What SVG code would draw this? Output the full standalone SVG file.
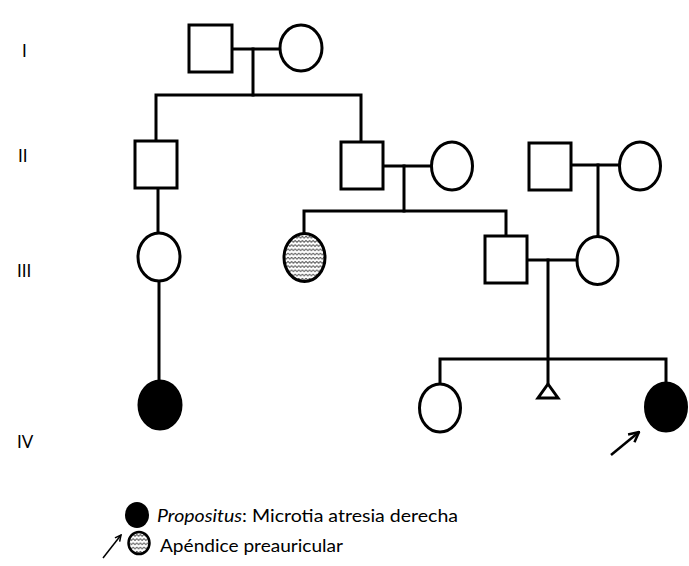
<svg xmlns="http://www.w3.org/2000/svg" width="689" height="566" viewBox="0 0 689 566">
  <defs>
    <style>
      .sym { fill: #fff; stroke: #000; stroke-width: 3; }
      .aff { fill: #000; stroke: #000; stroke-width: 3; }
      .pat { fill: url(#zigzag); stroke: #000; stroke-width: 3; }
      .ln { fill: none; stroke: #000; stroke-width: 3; stroke-linecap: square; }
      .arr { fill: none; stroke: #000; stroke-width: 2.5; }
      .gen { font-family: Lato, "Liberation Sans", sans-serif; font-size: 17px; fill: #000; }
      .leg { font-family: Lato, "Open Sans", "Liberation Sans", sans-serif; font-size: 17.5px; fill: #000; }
    </style>
    <pattern id="zigzag" width="3.6" height="4.2" patternUnits="userSpaceOnUse">
      <rect width="3.6" height="4.2" fill="#fff"/>
      <path d="M0 1 L1.8 3 L3.6 1" fill="none" stroke="#444" stroke-width="0.9"/>
    </pattern>
    <marker id="head" viewBox="0 0 10 10" refX="9" refY="5" markerWidth="5" markerHeight="5" orient="auto">
      <path d="M1 1 L9 5 L1 9" fill="none" stroke="#000" stroke-width="2"/>
    </marker>
  </defs>
  <rect width="689" height="566" fill="#fff"/>

  <!-- generation labels -->
  <g id="generations">
    <text class="gen" x="22" y="57">I</text>
    <text class="gen" x="18" y="162">II</text>
    <text class="gen" x="17" y="277">III</text>
    <text class="gen" x="17" y="448">IV</text>
  </g>

  <!-- connecting lines -->
  <g id="connectors">
    <path class="ln" d="M232 49 H280"/>
    <path class="ln" d="M253 49 V95"/>
    <path class="ln" d="M156 141 V95 H361 V142"/>
    <path class="ln" d="M158 188 V233"/>
    <path class="ln" d="M159 281 V380"/>
    <path class="ln" d="M383 166 H432"/>
    <path class="ln" d="M404 166 V211"/>
    <path class="ln" d="M304 233 V211 H506 V236"/>
    <path class="ln" d="M571 165 H620"/>
    <path class="ln" d="M598 165 V236"/>
    <path class="ln" d="M527 260 H577"/>
    <path class="ln" d="M548 260 V383"/>
    <path class="ln" d="M440 383 V359 H666 V381"/>
  </g>

  <!-- generation I -->
  <g id="I-1"><rect class="sym" x="189" y="25" width="43" height="47"/></g>
  <g id="I-2"><ellipse class="sym" cx="301" cy="48" rx="21" ry="23"/></g>

  <!-- generation II -->
  <g id="II-1"><rect class="sym" x="135" y="141" width="42" height="47"/></g>
  <g id="II-2"><rect class="sym" x="341" y="142" width="42" height="47"/></g>
  <g id="II-3"><ellipse class="sym" cx="452" cy="166" rx="20.5" ry="24"/></g>
  <g id="II-4"><rect class="sym" x="529" y="143" width="42" height="47"/></g>
  <g id="II-5"><ellipse class="sym" cx="640" cy="166" rx="20.5" ry="24"/></g>

  <!-- generation III -->
  <g id="III-1"><ellipse class="sym" cx="159" cy="257" rx="21" ry="24"/></g>
  <g id="III-2"><ellipse class="pat" cx="304.5" cy="257.5" rx="20.5" ry="24"/></g>
  <g id="III-3"><rect class="sym" x="485" y="236" width="42" height="47"/></g>
  <g id="III-4"><ellipse class="sym" cx="597.5" cy="260.5" rx="20.5" ry="24"/></g>

  <!-- generation IV -->
  <g id="IV-1"><ellipse class="aff" cx="160" cy="405" rx="21" ry="24"/></g>
  <g id="IV-2"><ellipse class="sym" cx="440" cy="408" rx="20.5" ry="24"/></g>
  <g id="IV-3"><path class="sym" d="M548 384 L558 398 H538 Z"/></g>
  <g id="IV-4"><ellipse class="aff" cx="666" cy="407" rx="20.5" ry="24"/></g>

  <!-- proband arrow -->
  <g id="proband-arrow">
    <path class="arr" d="M611 455 L639 432" marker-end="url(#head)"/>
  </g>

  <!-- legend -->
  <g id="legend">
    <ellipse cx="137" cy="515" rx="12" ry="13" fill="#000"/>
    <text class="leg" x="157" y="522" textLength="301" lengthAdjust="spacingAndGlyphs"><tspan font-style="italic">Propositus</tspan>: Microtia atresia derecha</text>
    <path d="M103 558 L121 535" fill="none" stroke="#000" stroke-width="1.5" marker-end="url(#head)"/>
    <ellipse cx="139" cy="543" rx="10.5" ry="11" fill="url(#zigzag)" stroke="#000" stroke-width="2.5"/>
    <text class="leg" x="160" y="552" textLength="183" lengthAdjust="spacingAndGlyphs">Apéndice preauricular</text>
  </g>
</svg>
